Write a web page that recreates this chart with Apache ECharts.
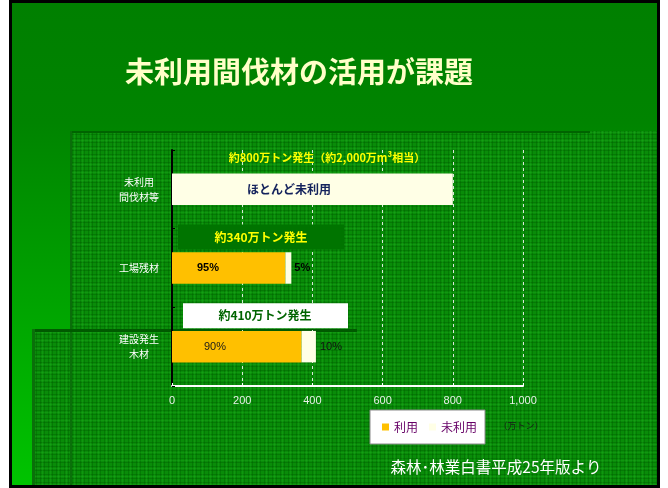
<!DOCTYPE html>
<html>
<head>
<meta charset="utf-8">
<script src="https://cdn.jsdelivr.net/npm/echarts@6/dist/echarts.min.js"></script>
<style>
  html, body { margin: 0; padding: 0; background: #ffffff; }
  #chart { width: 668px; height: 488px; }
</style>
</head>
<body>
<div id="chart"></div>
<script>
// 木質バイオマスの発生量と利用状況（万トン）
const categories = ['未利用\n間伐材等', '工場残材', '建設発生\n木材'];
const usedValues = [0, 323, 369];      // 利用
const unusedValues = [800, 17, 41];    // 未利用
const xTicks = [0, 200, 400, 600, 800, 1000];
const seriesNames = ['利用', '未利用'];

const JP = '"Noto Sans CJK JP", "Noto Sans", sans-serif';
const LAT = '"Liberation Sans", Arial, sans-serif';

const totals = usedValues.map((v, i) => v + unusedValues[i]);
const pct = (v, i) => Math.round(v / totals[i] * 100) + '%';

// plaid texture used on the slide's decorative panels
function makeTexture() {
  const c = document.createElement('canvas');
  c.width = 8; c.height = 8;
  const g = c.getContext('2d');
  g.fillStyle = '#098c09'; g.fillRect(0, 0, 8, 8);
  g.fillStyle = 'rgba(0,90,0,0.35)';
  g.fillRect(0, 0, 1, 8); g.fillRect(4, 0, 1, 8);
  g.fillRect(0, 2, 8, 1); g.fillRect(0, 6, 8, 1);
  g.fillStyle = 'rgba(40,190,40,0.22)';
  g.fillRect(2, 0, 1, 8); g.fillRect(0, 4, 8, 1);
  return c;
}
const texture = { image: makeTexture(), repeat: 'repeat' };

const chart = echarts.init(document.getElementById('chart'), null, { renderer: 'canvas' });

const usedData = usedValues.map((v, i) => {
  if (i === 1) {
    return { value: v, label: { show: true, position: 'insideLeft', distance: 25,
      formatter: pct(v, i), color: '#000', fontWeight: 'bold', fontSize: 11, fontFamily: LAT } };
  }
  if (i === 2) {
    return { value: v, label: { show: true, position: 'insideLeft', distance: 32,
      formatter: pct(v, i), color: '#1a1a1a', fontWeight: 'normal', fontSize: 11, fontFamily: LAT } };
  }
  return { value: v };
});
const unusedData = unusedValues.map((v, i) => {
  if (i === 0) {
    return { value: v, label: { show: true, position: 'insideLeft', distance: 75,
      formatter: 'ほとんど未利用', color: '#14235c', fontWeight: 'bold', fontSize: 12, fontFamily: JP } };
  }
  if (i === 1) {
    return { value: v, label: { show: true, position: 'right', distance: 3,
      formatter: pct(v, i), color: '#000', fontWeight: 'bold', fontSize: 11, fontFamily: LAT } };
  }
  return { value: v, label: { show: true, position: 'right', distance: 4,
    formatter: pct(v, i), color: '#111111', fontWeight: 'normal', fontSize: 11, fontFamily: LAT } };
});

const baseGraphics = [
  // slide frame and gradient background
  { type: 'rect', z: -20, shape: { x: 10.5, y: 1.5, width: 648, height: 485 },
    style: { fill: new echarts.graphic.LinearGradient(0, 0, 0, 1, [
      { offset: 0, color: '#007f00' }, { offset: 0.25, color: '#008400' },
      { offset: 1, color: '#00c400' }]), stroke: '#000', lineWidth: 3 } },
  // textured panels
  { type: 'rect', z: -19, shape: { x: 70, y: 131, width: 587, height: 354 },
    style: { fill: texture } },
  { type: 'rect', z: -18, shape: { x: 70, y: 131, width: 520, height: 2 }, style: { fill: '#006400' } },
  { type: 'rect', z: -18, shape: { x: 70, y: 131, width: 2, height: 354 }, style: { fill: '#0a6e0a' } },
  { type: 'rect', z: -17, shape: { x: 32, y: 329, width: 325, height: 156 },
    style: { fill: texture } },
  { type: 'rect', z: -16, shape: { x: 32, y: 329, width: 325, height: 3 }, style: { fill: '#005a00' } },
  { type: 'rect', z: -16, shape: { x: 32, y: 329, width: 3, height: 156 }, style: { fill: '#0a700a' } },
  { type: 'rect', z: -16, shape: { x: 70, y: 332, width: 2, height: 153 }, style: { fill: '#0a700a' } },
  // slide frame outline on top of panels
  { type: 'rect', z: -15, shape: { x: 10.5, y: 1.5, width: 648, height: 485 },
    style: { fill: 'none', stroke: '#000', lineWidth: 3 } },
  // title
  { type: 'text', z: 10, x: 299, y: 72,
    style: { text: '未利用間伐材の活用が課題', fill: '#ffffc8', font: 'bold 29px ' + JP,
      align: 'center', verticalAlign: 'middle' } },
  // unit
  { type: 'text', z: 10, x: 521, y: 426,
    style: { text: '（万トン）', fill: '#1a1a1a', font: '9px ' + JP, align: 'center', verticalAlign: 'middle' } },
  // source
  { type: 'text', z: 10, x: 496, y: 467,
    style: { text: '森林･林業白書平成25年版より', fill: '#ffffff', font: '15.5px ' + JP,
      align: 'center', verticalAlign: 'middle' } }
];

chart.setOption({
  animation: false,
  grid: { left: 172, right: 145, top: 150, bottom: 102 },
  legend: {
    data: seriesNames, left: 370, top: 410, orient: 'horizontal',
    icon: 'rect', itemWidth: 7, itemHeight: 7, itemGap: 11,
    backgroundColor: '#ffffff', borderColor: '#8a8a8a', borderWidth: 1,
    padding: [11, 8, 11, 12],
    textStyle: { color: '#660066', fontSize: 12, fontFamily: JP }
  },
  xAxis: {
    type: 'value', min: 0, max: 1000, interval: 200,
    axisLine: { show: true, lineStyle: { color: '#ffffff', width: 2 } },
    axisTick: { show: true, inside: true, length: 3, lineStyle: { color: '#ffffff' } },
    axisLabel: { color: '#e8f0e8', fontSize: 11, fontFamily: LAT, margin: 9,
      formatter: v => xTicks.includes(v) ? v.toLocaleString('en-US') : '' },
    splitLine: { show: true, lineStyle: { color: '#d8e8d8', type: [3, 3], width: 1 } }
  },
  yAxis: {
    type: 'category', data: categories, inverse: true,
    axisLine: { show: true, lineStyle: { color: '#000000', width: 2 } },
    axisTick: { show: true, inside: true, length: 3, lineStyle: { color: '#000000' } },
    axisLabel: { color: '#ffffff', fontSize: 10, fontFamily: JP, align: 'center', margin: 33, lineHeight: 15 }
  },
  series: [
    { name: seriesNames[0], type: 'bar', stack: 'total', data: usedData, barWidth: '40%',
      itemStyle: { color: '#ffc000' } },
    { name: seriesNames[1], type: 'bar', stack: 'total', data: unusedData, barWidth: '40%',
      itemStyle: { color: '#ffffe6' } }
  ],
  graphic: baseGraphics
});

// annotations above each bar, placed on the category scale
const gLeft = chart.convertToPixel({ xAxisIndex: 0 }, 0);
const ann = [];
const yTop = chart.convertToPixel({ yAxisIndex: 0 }, categories[0]) - 32;
ann.push({ type: 'text', z: 10, x: gLeft + 155, y: yTop,
  style: { text: '約' + totals[0] + '万トン発生（約2,000万m³相当）', fill: '#ffff00',
    font: 'bold 11px ' + JP, align: 'center', verticalAlign: 'middle' } });

const y1 = chart.convertToPixel({ yAxisIndex: 0 }, categories[1]) - 31;
ann.push({ type: 'rect', z: 9, shape: { x: gLeft + 6, y: y1 - 12.5, width: 166, height: 25 },
  style: { fill: '#007400' } });
ann.push({ type: 'text', z: 10, x: gLeft + 89, y: y1,
  style: { text: '約' + totals[1] + '万トン発生', fill: '#ffff00',
    font: 'bold 12px ' + JP, align: 'center', verticalAlign: 'middle' } });

const y2 = chart.convertToPixel({ yAxisIndex: 0 }, categories[2]) - 31;
ann.push({ type: 'rect', z: 9, shape: { x: gLeft + 11, y: y2 - 12.5, width: 165, height: 25 },
  style: { fill: '#ffffff' } });
ann.push({ type: 'text', z: 10, x: gLeft + 93, y: y2,
  style: { text: '約' + totals[2] + '万トン発生', fill: '#006400',
    font: 'bold 12px ' + JP, align: 'center', verticalAlign: 'middle' } });

chart.setOption({ graphic: baseGraphics.concat(ann) });
</script>
</body>
</html>
